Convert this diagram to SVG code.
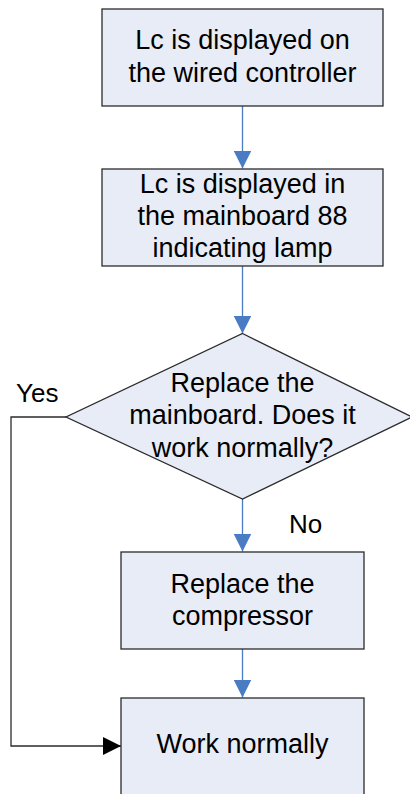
<svg xmlns="http://www.w3.org/2000/svg" width="410" height="794" viewBox="0 0 410 794">
<defs>
<style>
.node{fill:#E7ECF6;stroke:#2b2b2b;stroke-width:1.3}
.t{font-family:"Liberation Sans",Arial,sans-serif;font-size:27px;fill:#000;text-anchor:middle}
.lbl{font-family:"Liberation Sans",Arial,sans-serif;font-size:26px;fill:#000}
.blue{stroke:#4A7CC4;stroke-width:1.3;fill:none}
.blk{stroke:#2b2b2b;stroke-width:1.3;fill:none}
</style>
<marker id="ab" markerWidth="18" markerHeight="18" viewBox="0 0 18 18" refX="18" refY="9" orient="auto" markerUnits="userSpaceOnUse">
<path d="M0,0 L18,9 L0,18 Z" fill="#4A7CC4"/>
</marker>
<marker id="ak" markerWidth="18" markerHeight="18" viewBox="0 0 18 18" refX="18" refY="9" orient="auto" markerUnits="userSpaceOnUse">
<path d="M0,0 L18,9 L0,18 Z" fill="#000"/>
</marker>
</defs>
<rect width="410" height="794" fill="#fff"/>
<g id="connectors">
<line class="blue" x1="242.5" y1="106" x2="242.5" y2="168.5" marker-end="url(#ab)"/>
<line class="blue" x1="242.5" y1="266" x2="242.5" y2="333.5" marker-end="url(#ab)"/>
<line class="blue" x1="242.5" y1="499" x2="242.5" y2="551.5" marker-end="url(#ab)"/>
<line class="blue" x1="242.5" y1="649" x2="242.5" y2="697.5" marker-end="url(#ab)"/>
<polyline class="blk" points="66,417 11,417 11,746 121,746" marker-end="url(#ak)"/>
<text class="lbl" x="16" y="402">Yes</text>
<text class="lbl" x="289" y="533">No</text>
</g>
<g id="n1">
<rect class="node" x="102" y="9" width="281" height="97"/>
<text class="t" x="242.5" y="49">Lc is displayed on</text>
<text class="t" x="242.5" y="81.5">the wired controller</text>
</g>
<g id="n2">
<rect class="node" x="102" y="169" width="281" height="97"/>
<text class="t" x="242.5" y="193">Lc is displayed in</text>
<text class="t" x="242.5" y="225">the mainboard 88</text>
<text class="t" x="242.5" y="257">indicating lamp</text>
</g>
<g id="n3">
<polygon class="node" points="242.5,333.5 412,417 242.5,499 66,417"/>
<text class="t" x="242.5" y="391.5">Replace the</text>
<text class="t" x="242.5" y="424">mainboard. Does it</text>
<text class="t" x="242.5" y="457">work normally?</text>
</g>
<g id="n4">
<rect class="node" x="121" y="552" width="243" height="97"/>
<text class="t" x="242.5" y="593">Replace the</text>
<text class="t" x="242.5" y="625">compressor</text>
</g>
<g id="n5">
<rect class="node" x="121" y="698" width="243" height="97"/>
<text class="t" x="242.5" y="753">Work normally</text>
</g>
</svg>
